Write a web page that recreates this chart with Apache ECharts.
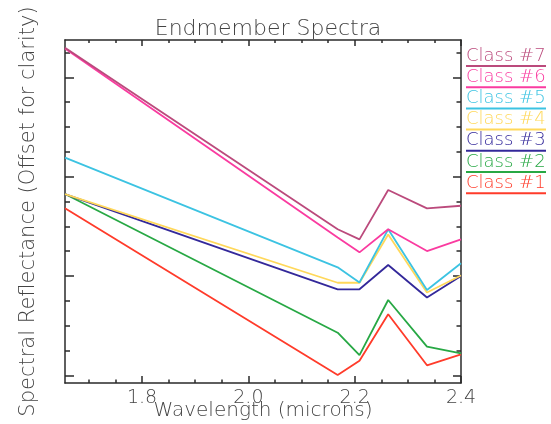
<!DOCTYPE html>
<html>
<head>
<meta charset="utf-8">
<script src="https://cdn.jsdelivr.net/npm/echarts@6/dist/echarts.min.js"></script>
<style>
  html, body { margin: 0; padding: 0; background: #fff; }
  #chart { width: 551px; height: 424px; }
</style>
</head>
<body>
<div id="chart"></div>
<script>
// band centres (microns)
var wavelengths = [1.655, 2.168, 2.209, 2.263, 2.336, 2.4];

var classNames = ["Class #1", "Class #2", "Class #3", "Class #4", "Class #5", "Class #6", "Class #7"];
var classColors = ["#ff3b2a", "#27a844", "#33289a", "#ffd85a", "#3cc3e2", "#fa3ba0", "#bb4a7c"];

// reflectance, already offset (arbitrary units)
var class1 = [1.681, 0.003, 0.147, 0.614, 0.101, 0.211];
var class2 = [1.825, 0.429, 0.204, 0.758, 0.288, 0.221];
var class3 = [1.825, 0.866, 0.866, 1.110, 0.783, 1.000];
var class4 = [1.825, 0.932, 0.932, 1.417, 0.834, 1.005];
var class5 = [2.191, 1.087, 0.934, 1.470, 0.859, 1.128];
var class6 = [3.290, 1.387, 1.238, 1.470, 1.251, 1.369];
var class7 = [3.298, 1.470, 1.369, 1.866, 1.681, 1.707];

var xMajorTicks = [1.8, 2.0, 2.2, 2.4];
var xMinorTicks = [1.7, 1.75, 1.85, 1.9, 1.95, 2.05, 2.1, 2.15, 2.25, 2.3, 2.35];
var yMajorTicks = [0, 1, 2, 3];
var yMinorTicks = [0.25, 0.5, 0.75, 1.25, 1.5, 1.75, 2.25, 2.5, 2.75, 3.25];

var FONT = "DejaVu Sans";
var AXIS = "#2a2a2a";
var TXT = "#444";

var allClasses = [class1, class2, class3, class4, class5, class6, class7];

function xAx(pos, ticks, len, major) {
  return {
    type: "value", position: pos, min: 1.655, max: 2.4,
    axisLine: { show: major, onZero: false, lineStyle: { color: AXIS, width: 1.5 } },
    axisTick: { show: true, inside: true, length: len, customValues: ticks, lineStyle: { color: AXIS, width: 1.5 } },
    axisLabel: { show: false },
    splitLine: { show: false }
  };
}
function yAx(pos, ticks, len, major) {
  return {
    type: "value", position: pos, min: -0.0775, max: 3.376,
    axisLine: { show: major, onZero: false, lineStyle: { color: AXIS, width: 1.5 } },
    axisTick: { show: true, inside: true, length: len, customValues: ticks, lineStyle: { color: AXIS, width: 1.5 } },
    axisLabel: { show: false },
    splitLine: { show: false }
  };
}

var xAxes = [xAx("bottom", xMajorTicks, 7, true), xAx("bottom", xMinorTicks, 3.5, false),
             xAx("top", xMajorTicks, 6, true), xAx("top", xMinorTicks, 3, false)];
xAxes[0].axisLabel = {
  show: true, customValues: xMajorTicks, margin: 6, color: TXT, fontFamily: FONT,
  fontWeight: 200, fontSize: 19, formatter: function (v) { return v.toFixed(1); }
};
xAxes[0].name = "Wavelength (microns)";
xAxes[0].nameLocation = "middle";
xAxes[0].nameGap = 18;
xAxes[0].nameMoveOverlap = false;
xAxes[0].nameTextStyle = { color: TXT, fontFamily: FONT, fontWeight: 200, fontSize: 20 };

var yAxes = [yAx("left", yMajorTicks, 9, true), yAx("left", yMinorTicks, 5, false),
             yAx("right", yMajorTicks, 8, true), yAx("right", yMinorTicks, 4.5, false)];
yAxes[0].name = "Spectral Reflectance (Offset for clarity)";
yAxes[0].nameLocation = "middle";
yAxes[0].nameGap = 26;
yAxes[0].nameMoveOverlap = false;
yAxes[0].nameTextStyle = { color: TXT, fontFamily: FONT, fontWeight: 200, fontSize: 21 };

var series = [];
var rich = {};
for (var i = 0; i < allClasses.length; i++) {
  var pts = [];
  for (var j = 0; j < wavelengths.length; j++) pts.push([wavelengths[j], allClasses[i][j]]);
  series.push({
    name: classNames[i], type: "line", data: pts, symbol: "none",
    lineStyle: { color: classColors[i], width: 1.8 }, itemStyle: { color: classColors[i] }
  });
  rich["t" + i] = { color: classColors[i], fontFamily: FONT, fontWeight: 200, fontSize: 18, lineHeight: 17 };
  rich["u" + i] = { backgroundColor: classColors[i], width: 80, height: 2, fontSize: 1, lineHeight: 3 };
}

var chart = echarts.init(document.getElementById("chart"), null, { renderer: "canvas" });
chart.setOption({
  animation: false,
  backgroundColor: "#fff",
  title: {
    text: "Endmember Spectra", left: 263, textAlign: "center", top: 13,
    textStyle: { color: TXT, fontFamily: FONT, fontWeight: 200, fontSize: 22 }
  },
  grid: { left: 65, right: 90, top: 40, bottom: 41, containLabel: false, outerBoundsMode: "none" },
  legend: {
    data: classNames.slice().reverse(),
    orient: "vertical", left: 456, top: 42, icon: "none", itemWidth: 0, itemHeight: 10, itemGap: 1.2,
    selectedMode: false,
    formatter: function (name) {
      var k = classNames.indexOf(name);
      return "{t" + k + "|" + name + "}\n{u" + k + "| }";
    },
    textStyle: { rich: rich }
  },
  xAxis: xAxes,
  yAxis: yAxes,
  series: series
});
</script>
</body>
</html>
